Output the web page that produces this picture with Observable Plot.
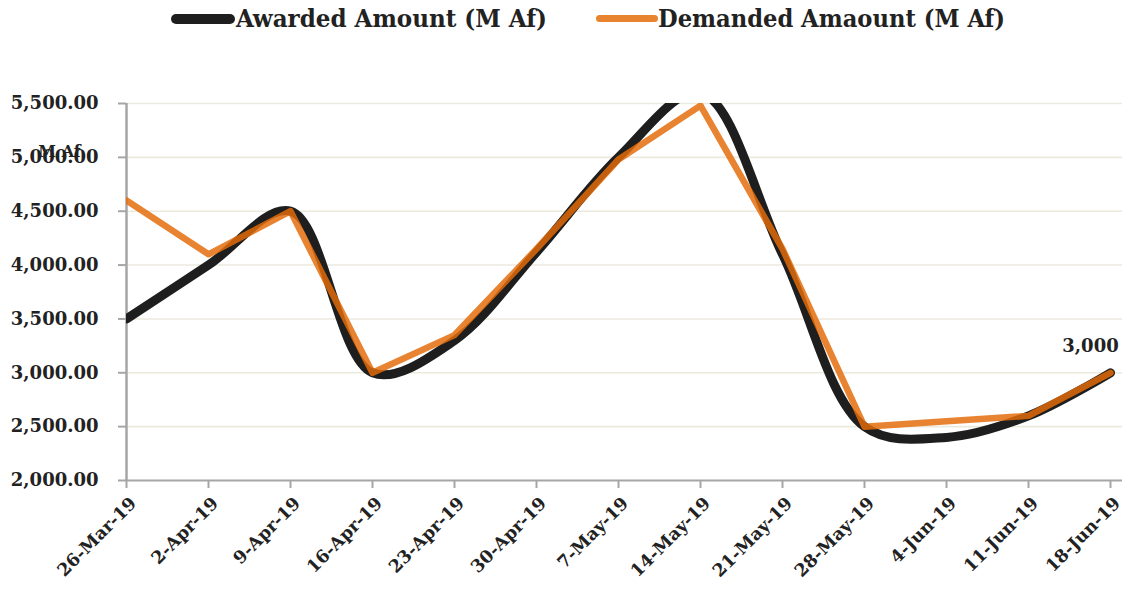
<!DOCTYPE html>
<html>
<head>
<meta charset="utf-8">
<script src="https://cdn.jsdelivr.net/npm/d3@7"></script>
<script src="https://cdn.jsdelivr.net/npm/@observablehq/plot@0.6"></script>
<style>
  html, body { margin: 0; padding: 0; background: #fff; }
  body { width: 1125px; height: 593px; overflow: hidden; font-family: "DejaVu Serif", serif; }
  #legend { position: relative; height: 40px; width: 1125px; }
  .sw { position: absolute; border-radius: 6px; }
  .lt { position: absolute; top: 3px; font-family: "DejaVu Serif Condensed", "DejaVu Serif", serif; font-stretch: condensed; font-weight: bold; font-size: 25px; color: #222; white-space: nowrap; transform-origin: 0 50%; line-height: 32px; }
  #chart svg { display: block; }
</style>
</head>
<body>
<div id="legend">
  <div class="sw" style="left:171px; top:14px; width:64px; height:10px; background:#1E1E1E;"></div>
  <div class="lt" id="lt1" style="left:236px;">Awarded Amount (M Af)</div>
  <div class="sw" style="left:596px; top:15px; width:62px; height:7px; background:#E8842F;"></div>
  <div class="lt" id="lt2" style="left:658px;">Demanded Amaount (M Af)</div>
</div>
<div id="chart"></div>
<script>
const dates = ["26-Mar-19","2-Apr-19","9-Apr-19","16-Apr-19","23-Apr-19","30-Apr-19","7-May-19","14-May-19","21-May-19","28-May-19","4-Jun-19","11-Jun-19","18-Jun-19"];
const awarded = [3500, 4000, 4500, 3000, 3300, 4120, 5000, 5600, 4100, 2500, 2400, 2600, 3000];
const demanded = [4600, 4100, 4500, 3000, 3350, 4150, 4980, 5480, 4150, 2500, 2550, 2600, 3000];
const yTicks = [2000, 2500, 3000, 3500, 4000, 4500, 5000, 5500];
const seriesNames = ["Awarded Amount (M Af)", "Demanded Amaount (M Af)"];
const yTitle = "M Af";
const lastLabel = "3,000";

const awardedData = dates.map((d, i) => ({date: d, value: awarded[i]}));
const demandedData = dates.map((d, i) => ({date: d, value: demanded[i]}));

function fit(id, target) {
  const el = document.getElementById(id);
  const w = el.getBoundingClientRect().width;
  el.style.transform = `scaleX(${target / w})`;
}
fit("lt1", 311);
fit("lt2", 347);

const chart = Plot.plot({
  width: 1125,
  height: 553,
  marginTop: 63,
  marginBottom: 113,
  marginLeft: 126,
  marginRight: 3,
  style: {fontFamily: "DejaVu Serif, serif", color: "#222", background: "#fff"},
  x: {type: "point", domain: dates, padding: 0, insetRight: 12},
  y: {domain: [2000, 5500]},
  marks: [
    Plot.ruleY(yTicks.slice(1), {stroke: "#ECE9DF", strokeWidth: 1.6}),
    Plot.ruleY([2000], {stroke: "#A6A6A6", strokeWidth: 2}),
    Plot.ruleX([dates[0]], {stroke: "#A6A6A6", strokeWidth: 2.5}),
    Plot.axisY({ticks: yTicks, tickFormat: d3.format(",.2f"), tickSize: 8, tickPadding: 20,
      stroke: "#A6A6A6", strokeWidth: 2, fontSize: 18, fontWeight: "bold", fill: "#222", label: null}),
    Plot.axisX({tickSize: 8, text: null, stroke: "#A6A6A6", strokeWidth: 2, label: null}),
    Plot.axisX({tickRotate: -45, tickSize: 0, tickPadding: 17, fontSize: 17.5, fontWeight: "bold",
      fill: "#222", label: null, dx: 7, dy: 3}),
    Plot.line(awardedData, {x: "date", y: "value", stroke: "#1E1E1E", strokeWidth: 9,
      curve: "catmull-rom", clip: true, strokeLinecap: "round", strokeLinejoin: "round"}),
    Plot.line(demandedData, {x: "date", y: "value", stroke: "#E46D09", strokeOpacity: 0.84, strokeWidth: 6.5,
      clip: true, strokeLinecap: "round", strokeLinejoin: "round"}),
    Plot.text([yTitle], {frameAnchor: "top-left", text: d => d, dx: -67, dy: 42,
      fontSize: 16, fontWeight: "bold", fill: "#222", textAnchor: "middle"}),
    Plot.text([awardedData[awardedData.length - 1]], {x: "date", y: "value", text: () => lastLabel,
      dx: -20, dy: -27, fontSize: 18, fontWeight: "bold", fill: "#222"})
  ]
});
document.getElementById("chart").appendChild(chart);
</script>
</body>
</html>
